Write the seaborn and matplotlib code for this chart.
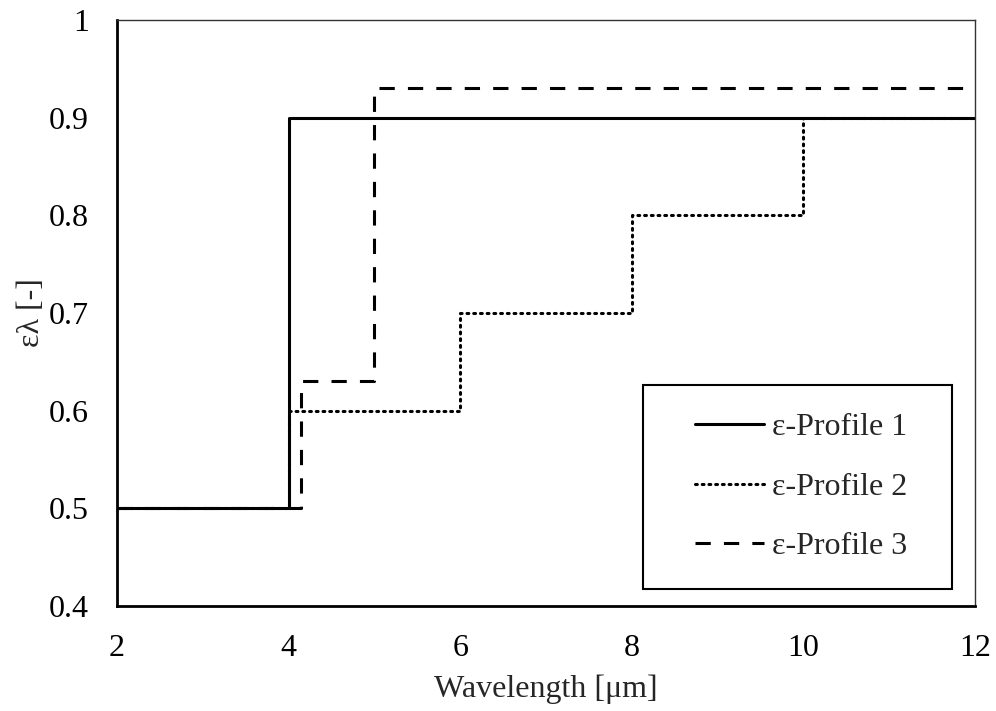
import matplotlib
matplotlib.use("Agg")
import matplotlib.pyplot as plt
from matplotlib.patches import Rectangle
import seaborn as sns

# Data (step edges; value holds until next edge)
p1_x = [2, 4, 12]
p1_y = [0.5, 0.9, 0.9]
p2_x = [2, 4, 6, 8, 10, 12]
p2_y = [0.5, 0.6, 0.7, 0.8, 0.9, 0.9]
p3_x = [2, 4.15, 5, 12]
p3_y = [0.5, 0.63, 0.93, 0.93]
labels = ["ε-Profile 1", "ε-Profile 2", "ε-Profile 3"]
x_ticks = [2, 4, 6, 8, 10, 12]
y_ticks = [0.4, 0.5, 0.6, 0.7, 0.8, 0.9, 1.0]
y_tick_labels = ["0.4", "0.5", "0.6", "0.7", "0.8", "0.9", "1"]

sns.set_style("white")
plt.rcParams["font.family"] = ["Liberation Serif", "DejaVu Serif"]

FS = 23

fig = plt.figure(figsize=(9.96, 7.11), dpi=100)
ax = fig.add_axes([117 / 996, 1 - 606 / 711, (975 - 117) / 996, (606 - 20) / 711])

lw = 2.2
sns.lineplot(x=p1_x, y=p1_y, ax=ax, color="black", linewidth=lw,
             drawstyle="steps-post", label=labels[0])
sns.lineplot(x=p2_x, y=p2_y, ax=ax, color="black", linewidth=lw,
             drawstyle="steps-post", label=labels[1], linestyle=(0, (0.6, 1.6)),
             dash_capstyle="round")
sns.lineplot(x=p3_x, y=p3_y, ax=ax, color="black", linewidth=lw,
             drawstyle="steps-post", label=labels[2], linestyle=(0, (5, 4.3)))

ax.set_xlim(2, 12)
ax.set_ylim(0.4, 1.0)
ax.set_xticks(x_ticks)
ax.set_yticks(y_ticks)
ax.set_yticklabels(y_tick_labels)
ax.tick_params(direction="in", length=7, width=1.2, labelsize=FS, colors="black")
ax.tick_params(axis="y", pad=20)
ax.tick_params(axis="x", pad=20.5)

for s in ["left", "bottom"]:
    ax.spines[s].set_linewidth(2.0)
    ax.spines[s].set_color("black")
for s in ["top", "right"]:
    ax.spines[s].set_linewidth(1.0)
    ax.spines[s].set_color("#333333")
    ax.spines[s].set_visible(True)

ax.set_xlabel("Wavelength [μm]", fontsize=FS, labelpad=8)
ax.set_ylabel("ελ [-]", fontsize=FS, labelpad=2)

leg = ax.legend(loc="center", bbox_to_anchor=(0.797, 0.203), frameon=False,
                fontsize=FS, handlelength=2.15, handletextpad=0.25, labelspacing=0.95)
ax.add_patch(Rectangle((0.613, 0.029), 0.36, 0.348, transform=ax.transAxes,
                       fill=False, edgecolor="black", linewidth=1.5, zorder=5))

fig.savefig("out.png", dpi=100)
